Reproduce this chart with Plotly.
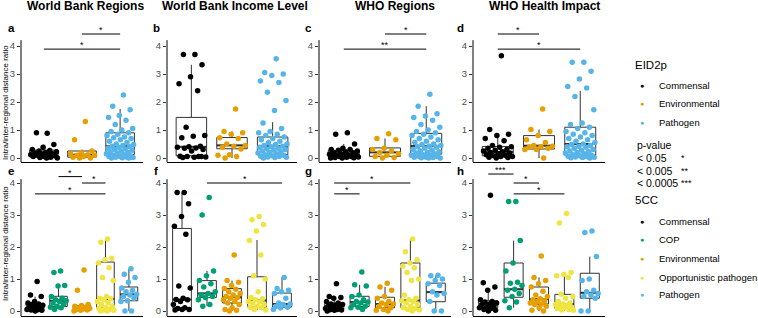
import plotly.graph_objects as go

W, H = 758, 318
FONT = "Liberation Sans, Arial, Helvetica, sans-serif"

panel_titles = ["World Bank Regions", "World Bank Income Level", "WHO Regions", "WHO Health Impact"]
title_centers = [85, 235, 395, 544]
letters_top = ["a", "b", "c", "d"]
letters_bottom = ["e", "f", "g", "h"]

eid_groups = ["Commensal", "Environmental", "Pathogen"]
cc_groups = ["Commensal", "COP", "Environmental", "Opportunistic pathogen", "Pathogen"]
colors = {"Commensal": "#000000", "COP": "#009E73", "Environmental": "#E69F00",
          "Opportunistic pathogen": "#F0E442", "Pathogen": "#56B4E9"}

# ---------------- Row 1 (EID2p) : panels a, b, c, d ----------------
eid_commensal = [
    [0.88, 0.9, 0.48, 0.38, 0.3, 0.27, 0.25, 0.22, 0.2, 0.18, 0.15, 0.15, 0.12, 0.1, 0.1, 0.08, 0.05, 0.05, 0.03, 0.02, 0.0, 0.0],
    [3.7, 3.7, 3.33, 2.9, 2.65, 2.4, 1.1, 0.8, 0.78, 0.72, 0.42, 0.4, 0.38, 0.36, 0.35, 0.3, 0.25, 0.06, 0.05, 0.05, 0.04, 0.03, 0.02, 0.05],
    [0.9, 0.85, 0.5, 0.35, 0.3, 0.3, 0.28, 0.25, 0.22, 0.2, 0.18, 0.15, 0.13, 0.12, 0.1, 0.1, 0.08, 0.06, 0.05, 0.05, 0.04, 0.03, 0.02, 0.01, 0.0, 0.0],
    [3.65, 1.02, 0.85, 0.8, 0.7, 0.62, 0.45, 0.4, 0.38, 0.35, 0.3, 0.28, 0.25, 0.22, 0.2, 0.18, 0.15, 0.12, 0.1, 0.08, 0.05, 0.05, 0.03, 0.02, 0.0],
]
eid_environmental = [
    [1.3, 0.65, 0.25, 0.2, 0.15, 0.12, 0.1, 0.1, 0.05, 0.03, 0.0, 0.0],
    [1.75, 0.95, 0.9, 0.85, 0.72, 0.7, 0.5, 0.45, 0.42, 0.38, 0.32, 0.12, 0.1, 0.05, 0.0],
    [0.87, 0.7, 0.65, 0.35, 0.3, 0.25, 0.2, 0.15, 0.1, 0.05, 0.02, 0.0],
    [1.75, 1.02, 0.95, 0.8, 0.65, 0.55, 0.45, 0.42, 0.4, 0.38, 0.35, 0.3, 0.3, 0.0],
]
eid_pathogen = [
    [2.25, 1.85, 1.72, 1.52, 1.45, 1.35, 1.2, 1.05, 1.0, 0.95, 0.9, 0.85, 0.8, 0.75, 0.72, 0.7, 0.65, 0.6, 0.55, 0.5, 0.48, 0.45,
     0.42, 0.4, 0.38, 0.35, 0.32, 0.3, 0.28, 0.25, 0.22, 0.2, 0.18, 0.15, 0.12, 0.1, 0.08, 0.06, 0.05, 0.04, 0.03, 0.02, 0.01, 0.0, 0.0],
    [3.55, 3.05, 3.0, 2.95, 2.75, 2.7, 2.35, 2.05, 1.7, 1.25, 1.05, 0.95, 0.9, 0.85, 0.8, 0.75, 0.7, 0.65, 0.6, 0.55, 0.5, 0.48,
     0.45, 0.42, 0.4, 0.38, 0.35, 0.32, 0.3, 0.28, 0.25, 0.22, 0.2, 0.18, 0.15, 0.12, 0.1, 0.08, 0.06, 0.05, 0.04, 0.03, 0.02, 0.0],
    [2.28, 1.85, 1.58, 1.5, 1.45, 1.35, 1.2, 1.1, 1.0, 0.95, 0.9, 0.85, 0.8, 0.75, 0.7, 0.65, 0.6, 0.55, 0.5, 0.48, 0.45, 0.42,
     0.4, 0.38, 0.35, 0.3, 0.28, 0.25, 0.22, 0.2, 0.18, 0.15, 0.12, 0.1, 0.08, 0.06, 0.05, 0.04, 0.03, 0.02, 0.01, 0.0, 0.0],
    [3.42, 3.42, 3.1, 2.82, 2.55, 2.5, 2.2, 1.72, 1.25, 1.2, 1.1, 1.05, 0.95, 0.9, 0.85, 0.8, 0.75, 0.7, 0.65, 0.6, 0.55, 0.5,
     0.48, 0.45, 0.42, 0.4, 0.38, 0.35, 0.3, 0.28, 0.25, 0.22, 0.2, 0.18, 0.15, 0.12, 0.1, 0.08, 0.06, 0.05, 0.04, 0.03, 0.02, 0.01, 0.0],
]
# box statistics (per panel, per group)
eid_q1 = [[0.05, 0.03, 0.13], [0.08, 0.33, 0.12], [0.04, 0.06, 0.14], [0.08, 0.32, 0.10]]
eid_med = [[0.16, 0.12, 0.42], [0.40, 0.45, 0.42], [0.13, 0.20, 0.43], [0.22, 0.44, 0.50]]
eid_q3 = [[0.28, 0.25, 0.90], [1.45, 0.73, 0.75], [0.27, 0.36, 0.88], [0.41, 0.80, 1.10]]
eid_lo = [[0.0, 0.0, 0.0], [0.0, 0.0, 0.0], [0.0, 0.0, 0.0], [0.0, 0.0, 0.0]]
eid_hi = [[0.48, 0.30, 1.75], [3.33, 0.95, 1.28], [0.50, 0.70, 1.85], [0.85, 1.02, 2.40]]
# significance brackets: (group from, group to, height, label)
eid_sig = [
    [(2, 3, 4.43, "*"), (1, 3, 3.89, "*")],
    [],
    [(2, 3, 4.43, "*"), (1, 3, 3.89, "**")],
    [(1, 2, 4.43, "*"), (1, 3, 3.89, "*")],
]

# ---------------- Row 2 (5CC) : panels e, f, g, h ----------------
cc_commensal = [
    [0.92, 0.5, 0.45, 0.3, 0.25, 0.22, 0.2, 0.18, 0.15, 0.12, 0.1, 0.08, 0.05, 0.04, 0.03, 0.02, 0.0],
    [3.7, 3.7, 3.35, 2.95, 2.65, 2.4, 0.78, 0.72, 0.4, 0.36, 0.35, 0.3, 0.2, 0.1, 0.08, 0.05, 0.05, 0.03],
    [0.85, 0.45, 0.42, 0.4, 0.3, 0.25, 0.22, 0.2, 0.18, 0.15, 0.12, 0.1, 0.08, 0.05, 0.04, 0.03, 0.02, 0.0],
    [3.62, 0.88, 0.75, 0.65, 0.35, 0.3, 0.28, 0.25, 0.22, 0.2, 0.15, 0.12, 0.1, 0.08, 0.05, 0.02, 0.0],
]
cc_cop = [
    [1.25, 1.2, 0.8, 0.78, 0.45, 0.4, 0.35, 0.32, 0.3, 0.25, 0.2, 0.15, 0.12, 0.1, 0.05],
    [3.55, 3.0, 1.25, 1.1, 0.95, 0.85, 0.75, 0.6, 0.55, 0.5, 0.45, 0.42, 0.35, 0.2, 0.15],
    [1.22, 0.82, 0.78, 0.5, 0.45, 0.35, 0.3, 0.28, 0.25, 0.2, 0.15, 0.12, 0.1, 0.05],
    [3.42, 3.42, 2.2, 1.5, 1.25, 0.9, 0.87, 0.8, 0.68, 0.65, 0.55, 0.45, 0.32, 0.28, 0.1],
]
cc_environmental = [
    [1.28, 0.65, 0.2, 0.17, 0.15, 0.12, 0.1, 0.08, 0.06, 0.05, 0.03, 0.02, 0.0],
    [1.75, 0.95, 0.9, 0.8, 0.7, 0.68, 0.6, 0.55, 0.5, 0.45, 0.42, 0.4, 0.35, 0.3, 0.25, 0.2, 0.1, 0.05, 0.02, 0.0],
    [0.87, 0.75, 0.65, 0.45, 0.4, 0.3, 0.25, 0.22, 0.2, 0.15, 0.1, 0.05, 0.02, 0.0],
    [1.72, 1.05, 0.95, 0.85, 0.75, 0.62, 0.5, 0.45, 0.38, 0.35, 0.32, 0.3, 0.25, 0.22, 0.2, 0.15, 0.1, 0.02, 0.0],
]
cc_opportunistic = [
    [2.25, 2.15, 1.65, 1.6, 1.5, 1.35, 1.05, 0.95, 0.45, 0.4, 0.38, 0.35, 0.3, 0.25, 0.2, 0.15, 0.1, 0.08, 0.05, 0.03, 0.02, 0.0, 0.0],
    [2.95, 2.85, 2.7, 2.5, 2.2, 1.75, 1.1, 1.0, 0.6, 0.42, 0.38, 0.35, 0.3, 0.28, 0.25, 0.2, 0.15, 0.12, 0.1, 0.05, 0.03],
    [2.25, 1.85, 1.6, 1.5, 1.4, 1.35, 1.2, 1.0, 0.95, 0.5, 0.4, 0.35, 0.32, 0.3, 0.25, 0.2, 0.15, 0.1, 0.08, 0.05, 0.03, 0.0],
    [3.05, 2.75, 1.2, 1.15, 1.1, 1.05, 0.52, 0.45, 0.4, 0.3, 0.25, 0.22, 0.2, 0.18, 0.15, 0.12, 0.1, 0.08, 0.05, 0.03, 0.02],
]
cc_pathogen = [
    [1.32, 1.15, 1.05, 0.9, 0.72, 0.65, 0.6, 0.52, 0.5, 0.45, 0.4, 0.32, 0.3, 0.0, 0.0],
    [1.05, 0.7, 0.65, 0.6, 0.55, 0.4, 0.25, 0.22, 0.2, 0.15, 0.12, 0.1, 0.05],
    [1.12, 1.1, 1.0, 0.95, 0.85, 0.8, 0.6, 0.55, 0.5, 0.3, 0.0, 0.0],
    [2.5, 2.45, 1.7, 1.0, 0.95, 0.65, 0.6, 0.55, 0.5, 0.45, 0.4, 0.0, 0.0],
]
cc_q1 = [[0.04, 0.14, 0.03, 0.10, 0.32], [0.10, 0.42, 0.25, 0.12, 0.12], [0.05, 0.14, 0.10, 0.10, 0.29], [0.10, 0.43, 0.22, 0.08, 0.40]]
cc_med = [[0.13, 0.32, 0.10, 0.38, 0.52], [0.36, 0.55, 0.43, 0.33, 0.22], [0.16, 0.28, 0.22, 0.33, 0.59], [0.22, 0.68, 0.37, 0.22, 0.57]]
cc_q3 = [[0.22, 0.46, 0.17, 1.53, 0.75], [2.58, 0.95, 0.70, 1.07, 0.56], [0.25, 0.46, 0.43, 1.50, 0.87], [0.32, 1.50, 0.75, 0.52, 1.18]]
cc_lo = [[0.0, 0.05, 0.0, 0.0, 0.0], [0.03, 0.15, 0.0, 0.03, 0.05], [0.0, 0.05, 0.0, 0.0, 0.0], [0.0, 0.10, 0.0, 0.0, 0.0]]
cc_hi = [[0.45, 0.80, 0.20, 2.25, 1.32], [3.70, 1.25, 0.95, 2.22, 1.05], [0.45, 0.82, 0.75, 2.25, 1.10], [0.65, 2.20, 1.05, 1.10, 1.70]]
cc_sig = [
    [(2, 3, 4.2, "*"), (3, 4, 4.0, "*"), (1, 4, 3.66, "*")],
    [(2, 5, 4.0, "*")],
    [(1, 4, 4.0, "*"), (1, 2, 3.66, "*")],
    [(1, 2, 4.28, "***"), (2, 3, 4.0, "*"), (2, 4, 3.66, "*")],
]

# ---------------- layout geometry (pixels) ----------------
col_px = [(21, 143), (167, 297), (319, 451), (473, 605)]
rows = [
    dict(bottom=162, top=20, yrange=[-0.143, 4.93], axis_top=4.21, letter_y=28),
    dict(bottom=316, top=165, yrange=[-0.156, 4.5625], axis_top=4.12, letter_y=171),
]
letter_x = [11, 156, 308, 460]


def px(x):
    return x / W


def py(y):
    return 1 - y / H


def jitter(k):
    return (((k + 1) * 0.6180339887) % 1.0 - 0.5) * 0.74


fig = go.Figure()
shapes = []
annotations = []
layout_axes = {}

row_data = [
    (eid_groups, [eid_commensal, eid_environmental, eid_pathogen], eid_q1, eid_med, eid_q3, eid_lo, eid_hi, eid_sig),
    (cc_groups, [cc_commensal, cc_cop, cc_environmental, cc_opportunistic, cc_pathogen], cc_q1, cc_med, cc_q3, cc_lo, cc_hi, cc_sig),
]

for r, (groups, series, q1s, meds, q3s, los, his, sigs) in enumerate(row_data):
    rw = rows[r]
    ng = len(groups)
    for c in range(4):
        n = r * 4 + c + 1
        xa = "x" if n == 1 else f"x{n}"
        ya = "y" if n == 1 else f"y{n}"
        xname = "xaxis" if n == 1 else f"xaxis{n}"
        yname = "yaxis" if n == 1 else f"yaxis{n}"
        layout_axes[xname] = dict(
            domain=[px(col_px[c][0]), px(col_px[c][1])], range=[0.4, ng + 0.6], anchor=ya,
            showticklabels=False, ticks="", showgrid=False, zeroline=False,
            showline=True, linecolor="#000000", linewidth=1, fixedrange=True)
        layout_axes[yname] = dict(
            domain=[py(rw["bottom"]), py(rw["top"])], range=rw["yrange"], anchor=xa,
            tickvals=[0, 1, 2, 3, 4], ticks="outside", ticklen=3, tickwidth=1, tickcolor="#333333",
            tickfont=dict(size=9.5, color="#4D4D4D", family=FONT),
            showgrid=False, zeroline=False, showline=False, fixedrange=True)
        # y axis line (stops at panel top)
        shapes.append(dict(type="line", xref=f"{xa} domain", yref=ya, x0=0, x1=0,
                           y0=rw["yrange"][0], y1=rw["axis_top"], line=dict(color="#000000", width=1)))
        xs_pos = list(range(1, ng + 1))
        fig.add_trace(go.Box(
            x=xs_pos, q1=q1s[c], median=meds[c], q3=q3s[c], lowerfence=los[c], upperfence=his[c],
            width=0.75, whiskerwidth=0, boxpoints=False,
            line=dict(color="#333333", width=1), fillcolor="rgba(255,255,255,0)",
            xaxis=xa, yaxis=ya, showlegend=False, hoverinfo="skip"))
        mx, my = [], []
        for j in range(ng):
            mx += [j + 1 - 0.375, j + 1 + 0.375, None]
            my += [meds[c][j], meds[c][j], None]
        fig.add_trace(go.Scatter(x=mx, y=my, mode="lines", line=dict(color="#333333", width=2),
                                 xaxis=xa, yaxis=ya, showlegend=False, hoverinfo="skip"))
        for j, g in enumerate(groups):
            ys = series[j][c]
            xs = [j + 1 + jitter(k) for k in range(len(ys))]
            fig.add_trace(go.Scatter(x=xs, y=ys, mode="markers",
                                     marker=dict(size=5.5, color=colors[g], line=dict(width=0)),
                                     xaxis=xa, yaxis=ya, showlegend=False, hoverinfo="skip"))
        for (g1, g2, yy, lab) in sigs[c]:
            shapes.append(dict(type="line", xref=xa, yref=ya, x0=g1, x1=g2, y0=yy, y1=yy,
                               line=dict(color="#000000", width=1)))
            annotations.append(dict(xref=xa, yref=ya, x=(g1 + g2) / 2, y=yy, text=lab, showarrow=False,
                                    yanchor="bottom", yshift=-3, font=dict(size=9, color="#000000", family=FONT)))
        letters = letters_top if r == 0 else letters_bottom
        annotations.append(dict(xref="paper", yref="paper", x=px(letter_x[c]), y=py(rw["letter_y"]),
                                text=f"<b>{letters[c]}</b>", showarrow=False, xanchor="center", yanchor="middle",
                                font=dict(size=11.5, color="#000000", family=FONT)))
    # y axis title
    annotations.append(dict(xref="paper", yref="paper", x=px(5), y=py(103 if r == 0 else 244),
                            text="Intra/inter-regional distance ratio", textangle=-90, showarrow=False,
                            xanchor="center", yanchor="middle", font=dict(size=8, color="#000000", family=FONT)))

for t, cx in zip(panel_titles, title_centers):
    annotations.append(dict(xref="paper", yref="paper", x=px(cx), y=py(5.5), text=f"<b>{t}</b>",
                            showarrow=False, xanchor="center", yanchor="middle",
                            font=dict(size=12, color="#000000", family=FONT)))

# ---------------- legends ----------------
def ltext(x, y, s, size, color="#000000", anchor="left"):
    annotations.append(dict(xref="paper", yref="paper", x=px(x), y=py(y), text=s, showarrow=False,
                            xanchor=anchor, yanchor="middle", font=dict(size=size, color=color, family=FONT)))


ltext(633, 65, "EID2p", 11.5)
for g, yy in zip(eid_groups, [85, 104, 122]):
    ltext(642, yy, "●", 7, colors[g], "center")
    ltext(657, yy, g, 9.5)
ltext(635, 145, "p-value", 10.5)
for s, st, yy in zip(["< 0.05", "< 0.005", "< 0.0005"], ["*", "**", "***"], [158, 171, 183]):
    ltext(635, yy, s, 10.5)
    ltext(679, yy, st, 9)
ltext(633, 200, "5CC", 11.5)
for g, yy in zip(cc_groups, [221, 239, 258, 277, 294]):
    ltext(642, yy, "●", 7, colors[g], "center")
    ltext(657, yy, g, 9.5)

fig.update_layout(
    width=W, height=H, margin=dict(l=0, r=0, t=0, b=0),
    paper_bgcolor="#FFFFFF", plot_bgcolor="rgba(0,0,0,0)",
    font=dict(family=FONT), shapes=shapes, annotations=annotations, showlegend=False,
    **layout_axes)

fig.write_html("out.html", config={"displayModeBar": False, "staticPlot": True},
               post_script="document.body.style.margin='0';document.body.style.padding='0';")
